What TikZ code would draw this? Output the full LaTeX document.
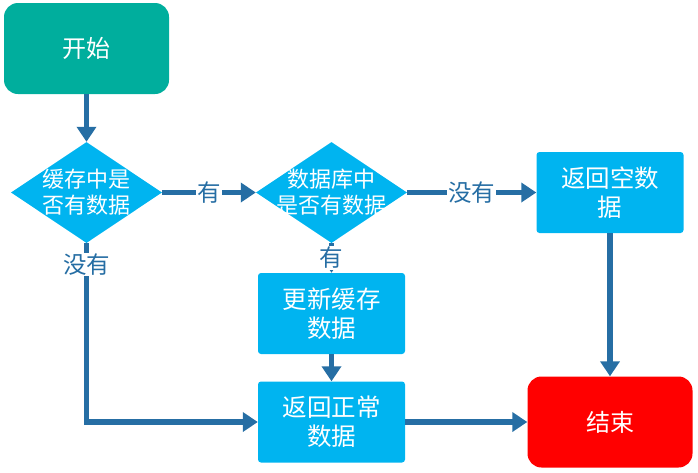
\documentclass[tikz,border=0pt]{standalone}
\usepackage{fontspec}
\setmainfont{Noto Sans CJK SC}
\usetikzlibrary{arrows.meta, shapes, positioning}
\definecolor{startgreen}{RGB}{0,174,157}
\definecolor{boxblue}{RGB}{0,180,240}
\definecolor{endred}{RGB}{255,0,0}
\definecolor{linkblue}{RGB}{38,110,164}

\begin{document}
\begin{tikzpicture}[x=1pt, y=-1pt,
    every node/.style={font=\fontsize{23.5}{28}\selectfont},
    terminal/.style={rounded corners=14pt, minimum width=165pt, minimum height=91pt, text=white,
      font=\fontsize{24}{28}\selectfont},
    process/.style={fill=boxblue, rounded corners=3pt, minimum width=147pt, minimum height=81pt,
      text=white, align=center, font=\fontsize{24.5}{29}\selectfont},
    decision/.style={diamond, fill=boxblue, minimum width=151pt, minimum height=101pt, inner sep=0pt},
    decisiontext/.style={text=white, align=center, font=\fontsize{22}{26}\selectfont},
    link/.style={draw=linkblue, line width=5.5pt, -{Triangle[width=19pt,length=15pt]}},
    lbl/.style={fill=white, text=linkblue, inner sep=1pt}]
  \useasboundingbox (0,0) rectangle (698,472);

  % flow nodes
  \node[terminal, fill=startgreen] (start) at (86.5,48.5) {开始};
  \node[decision, label={[decisiontext]center:{缓存中是\\否有数据}}] (cache) at (86.5,192.5) {};
  \node[decision, label={[decisiontext]center:{数据库中\\是否有数据}}] (db) at (331.5,192.5) {};
  \node[process] (empty) at (610,192.5) {返回空数\\据};
  \node[process] (update) at (331.5,313.5) {更新缓存\\数据};
  \node[process] (normal) at (331.5,422) {返回正常\\数据};
  \node[terminal, fill=endred] (end) at (610,422) {结束};

  % connectors
  \draw[link] (start) -- (cache);
  \draw[link] (cache) -- node[lbl] {有} (db);
  \draw[link] (db) -- node[lbl] {没有} (empty);
  \draw[link] (empty) -- (end);
  \draw[link] (cache.south) |- node[lbl, pos=0.06] {没有} (normal);
  \draw[link] (db.south) -- node[lbl] {有} (update);
  \draw[link] (update) -- (normal);
  \draw[link] (normal) -- (end);
\end{tikzpicture}
\end{document}
